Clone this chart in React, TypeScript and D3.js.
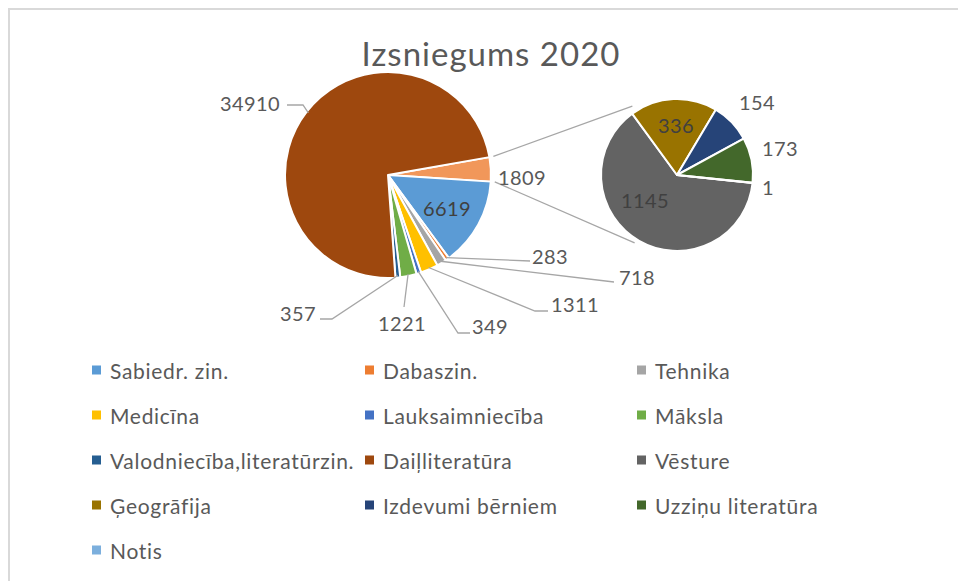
import React from "react";
import * as d3 from "d3";

// ---------- data ----------
const title = "Izsniegums 2020";
const mainCategories = ["Sabiedr. zin.", "Dabaszin.", "Tehnika", "Medicīna", "Lauksaimniecība", "Māksla", "Valodniecība,literatūrzin.", "Daiļliteratūra"];
const mainValues = [6619, 283, 718, 1311, 349, 1221, 357, 34910];
const secondCategories = ["Vēsture", "Ģeogrāfija", "Izdevumi bērniem", "Uzziņu literatūra", "Notis"];
const secondValues = [1145, 336, 154, 173, 1];
const legendOrder = ["Sabiedr. zin.", "Dabaszin.", "Tehnika", "Medicīna", "Lauksaimniecība", "Māksla", "Valodniecība,literatūrzin.", "Daiļliteratūra", "Vēsture", "Ģeogrāfija", "Izdevumi bērniem", "Uzziņu literatūra", "Notis"];

const colorMap: Record<string, string> = {
  "Sabiedr. zin.": "#5B9BD5",
  "Dabaszin.": "#ED7D31",
  "Tehnika": "#A5A5A5",
  "Medicīna": "#FFC000",
  "Lauksaimniecība": "#4472C4",
  "Māksla": "#70AD47",
  "Valodniecība,literatūrzin.": "#255E91",
  "Daiļliteratūra": "#9E480E",
  "Vēsture": "#636363",
  "Ģeogrāfija": "#997300",
  "Izdevumi bērniem": "#264478",
  "Uzziņu literatūra": "#43682B",
  "Notis": "#7CAFDD",
  "Other": "#F1975A",
};

// ---------- layout ----------
const FONT = "Lato, 'Open Sans', sans-serif";
const TXT = "#595959";
const mainC = { x: 388, y: 175 };
const mainR = 103;
const secC = { x: 677, y: 175 };
const secR = 76;
const deg = Math.PI / 180;

type LabelLayout = { tx: number; ty: number; inside?: boolean; pts?: [number, number][] };
// label layout for main pie: order Other, then mainCategories
const mainLabelLayout: LabelLayout[] = [
  { tx: 522, ty: 177 },
  { tx: 447, ty: 208, inside: true },
  { tx: 550, ty: 256, pts: [[530, 261]] },
  { tx: 637, ty: 277, pts: [[614, 282]] },
  { tx: 575, ty: 304, pts: [[535, 311], [548, 311]] },
  { tx: 490, ty: 326, pts: [[458, 333], [470, 333]] },
  { tx: 402, ty: 323, pts: [[404, 307]] },
  { tx: 298, ty: 313, pts: [[332, 319], [320, 319]] },
  { tx: 250, ty: 103, pts: [[303, 105], [287, 105]] },
];
const secLabelLayout: LabelLayout[] = [
  { tx: 645, ty: 200, inside: true },
  { tx: 676, ty: 125, inside: true },
  { tx: 757, ty: 102 },
  { tx: 780, ty: 148 },
  { tx: 768, ty: 187 },
];

const legendCols = [92, 365, 637];
const legendRow0 = 370;
const legendRowStep = 45;

export default function App() {
  const otherTotal = d3.sum(secondValues);
  const mainData = [{ name: "Other", value: otherTotal }, ...mainCategories.map((c, i) => ({ name: c, value: mainValues[i] }))];
  const mainPie = d3.pie<{ name: string; value: number }>().sort(null).value((d) => d.value)
    .startAngle(80 * deg).endAngle(440 * deg)(mainData);
  const secData = secondCategories.map((c, i) => ({ name: c, value: secondValues[i] }));
  const secPie = d3.pie<{ name: string; value: number }>().sort(null).value((d) => d.value)
    .startAngle(96 * deg).endAngle(456 * deg)(secData);

  const mainArc = d3.arc<any>().innerRadius(0).outerRadius(mainR);
  const secArc = d3.arc<any>().innerRadius(0).outerRadius(secR);

  const polar = (c: { x: number; y: number }, r: number, a: number): [number, number] => [c.x + r * Math.sin(a), c.y - r * Math.cos(a)];

  const other = mainPie[0];
  const oTop = polar(mainC, mainR + 4, other.startAngle);
  const oBot = polar(mainC, mainR + 4, other.endAngle);
  const sTop = polar(secC, secR + 6, -33 * deg);
  const sBot = polar(secC, secR + 4, 212 * deg);

  return (
    <svg width={958} height={581} style={{ position: "absolute", left: 0, top: 0, background: "#fff" }} fontFamily={FONT}>
      <rect x={9} y={9} width={1200} height={1200} fill="#fff" stroke="#d9d9d9" strokeWidth={2} />
      <text x={491} y={53} textAnchor="middle" dominantBaseline="central" fontSize={33} letterSpacing={1} fill={TXT}>{title}</text>

      {/* connector lines */}
      <line x1={oTop[0]} y1={oTop[1]} x2={sTop[0]} y2={sTop[1]} stroke="#A6A6A6" strokeWidth={1.3} />
      <line x1={oBot[0]} y1={oBot[1]} x2={sBot[0]} y2={sBot[1]} stroke="#A6A6A6" strokeWidth={1.3} />

      <g transform={`translate(${mainC.x},${mainC.y})`}>
        {mainPie.map((d, i) => (
          <path key={i} d={mainArc(d) as string} fill={colorMap[d.data.name]} stroke="#fff" strokeWidth={2} strokeLinejoin="round" />
        ))}
      </g>
      <g transform={`translate(${secC.x},${secC.y})`}>
        {secPie.map((d, i) => (
          <path key={i} d={secArc(d) as string} fill={colorMap[d.data.name]} stroke="#fff" strokeWidth={2} strokeLinejoin="round" />
        ))}
      </g>

      {/* main labels */}
      {mainPie.map((d, i) => {
        const L = mainLabelLayout[i];
        const mid = (d.startAngle + d.endAngle) / 2;
        const start = polar(mainC, mainR - 2, mid);
        return (
          <g key={i}>
            {L.pts && (
              <polyline points={[start, ...L.pts].map((p) => p.join(",")).join(" ")} fill="none" stroke="#A6A6A6" strokeWidth={1.3} />
            )}
            <text x={L.tx} y={L.ty} textAnchor="middle" dominantBaseline="central" fontSize={20} letterSpacing={0.4} fill={L.inside ? "#404040" : TXT}>{d.data.value}</text>
          </g>
        );
      })}

      {/* secondary labels */}
      {secPie.map((d, i) => {
        const L = secLabelLayout[i];
        return (
          <text key={i} x={L.tx} y={L.ty} textAnchor="middle" dominantBaseline="central" fontSize={20} letterSpacing={0.4} fill={L.inside ? "#404040" : TXT}>{d.data.value}</text>
        );
      })}

      {/* legend */}
      {legendOrder.map((name, i) => {
        const col = i % 3;
        const row = Math.floor(i / 3);
        const x = legendCols[col];
        const y = legendRow0 + row * legendRowStep;
        return (
          <g key={name}>
            <rect x={x} y={y - 4.5} width={9} height={9} fill={colorMap[name]} />
            <text x={x + 18} y={y} dominantBaseline="central" fontSize={21} letterSpacing={0.7} fill={TXT}>{name}</text>
          </g>
        );
      })}
    </svg>
  );
}
